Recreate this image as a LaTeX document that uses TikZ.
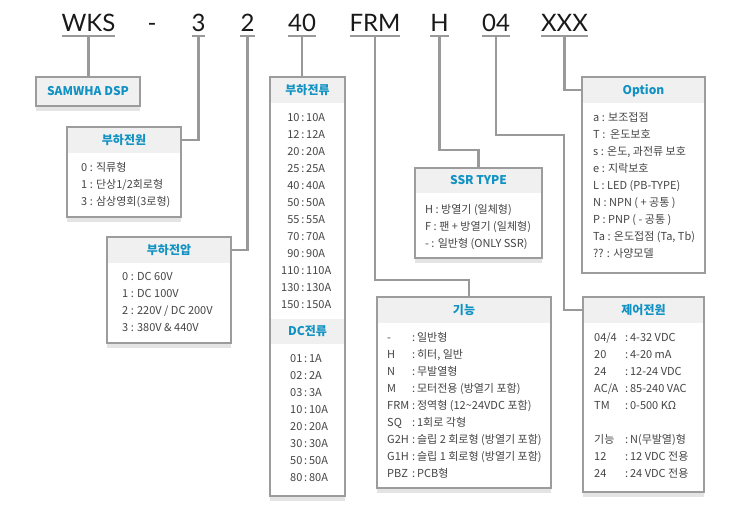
\documentclass[tikz,border=0pt]{standalone}
\usepackage{fontspec}
\newfontfamily\kr{Noto Sans CJK KR}
\newfontfamily\ttlfont{Lato}
\usetikzlibrary{calc}
\definecolor{bord}{HTML}{9C9C9C}
\definecolor{conncol}{HTML}{999999}
\definecolor{hdrfill}{HTML}{F0F0F0}
\definecolor{shad}{HTML}{E4E4E4}
\definecolor{hblue}{HTML}{1192C2}
\definecolor{txt}{HTML}{444444}
\tikzset{
 ttl/.style={font=\ttlfont\fontsize{24}{24}\selectfont, text=black!90, anchor=south, inner xsep=0pt, inner ysep=4pt, text depth=0pt, outer sep=0pt},
 uline/.style={draw=conncol, line width=1.2pt},
 conn/.style={draw=conncol, line width=2.6pt},
 box/.style={draw=bord, line width=1.6pt, anchor=north west, inner sep=0pt, outer sep=0pt},
 hdr/.style={font=\kr\bfseries\fontsize{12}{12}\selectfont, text=hblue, inner sep=0pt, anchor=base},
 body/.style={font=\kr\fontsize{11}{17}\selectfont, text=txt, anchor=base west, inner sep=0pt},
}
% name, x, y, w, h, header height, title, shadow height
\newcommand{\ibox}[8]{%
  \fill[shad] (#2,#3+#5) rectangle (#2+#4,#3+#5+#8);
  \fill[hdrfill] (#2,#3) rectangle (#2+#4,#3+#6);
  \node[box, minimum width=#4pt, minimum height=#5pt] (#1) at (#2,#3) {};
  \node[hdr] (#1-h) at (#2+#4/2,#3+#6/2+4.5) {#7};
}
\begin{document}
\begin{tikzpicture}[x=1pt,y=-1pt]
\useasboundingbox (0,0) rectangle (732,513);

% title codes
\node[ttl, minimum width=49pt] (tWKS) at (88.5,36) {WKS};
\node[ttl] (tDash) at (152,36) {-};
\node[ttl, minimum width=13pt] (t3) at (198.5,36) {3};
\node[ttl, minimum width=15pt] (t2) at (247.5,36) {2};
\node[ttl, minimum width=28pt] (t40) at (302,36) {40};
\node[ttl, minimum width=46pt] (tFRM) at (375,36) {FRM};
\node[ttl, minimum width=17pt] (tH) at (439.5,36) {H};
\node[ttl, minimum width=27pt] (t04) at (496,36) {04};
\node[ttl, minimum width=45pt] (tXXX) at (564.5,36) {XXX};
\foreach \t in {tWKS,t3,t2,t40,tFRM,tH,t04,tXXX}
  \draw[uline] (\t.south west) -- (\t.south east);

% boxes
\ibox{samwha}{36}{77}{104}{29}{29}{SAMWHA DSP}{5}
\ibox{pw}{67}{127}{114}{90}{26}{부하전원}{5}
\ibox{volt}{107}{237}{124}{106}{26}{부하전압}{5}
\ibox{cur}{270}{77}{75}{419}{26}{부하전류}{5}
\fill[hdrfill] (271,319) rectangle (344,344);
\node[hdr] (dc-h) at (307.5,336) {DC전류};
\ibox{ssr}{415}{168}{127}{90}{25}{SSR TYPE}{5}
\ibox{func}{377}{297}{174}{191}{26}{기능}{5}
\ibox{opt}{582}{77}{123}{196}{26}{Option}{0}
\ibox{ctl}{583}{297}{121}{195}{26}{제어전원}{5}

% box contents
\node[body] (pw-b) at (81,172) {\begin{tabular}[t]{@{}l@{}}
0 : 직류형\\ 1 : 단상1/2회로형\\ 3 : 삼상영회(3로형)\end{tabular}};
\node[body] (volt-b) at (122,281) {\begin{tabular}[t]{@{}l@{}}
0 : DC 60V\\ 1 : DC 100V\\ 2 : 220V / DC 200V\\ 3 : 380V \& 440V\end{tabular}};
\node[body] (cur-b) at (281,122) {\begin{tabular}[t]{@{}r@{\,:\,}l@{}}
10&10A\\ 12&12A\\ 20&20A\\ 25&25A\\ 40&40A\\ 50&50A\\ 55&55A\\ 70&70A\\ 90&90A\\ 110&110A\\ 130&130A\\ 150&150A\end{tabular}};
\node[body] (dc-b) at (290,363) {\begin{tabular}[t]{@{}r@{\,:\,}l@{}}
01&1A\\ 02&2A\\ 03&3A\\ 10&10A\\ 20&20A\\ 30&30A\\ 50&50A\\ 80&80A\end{tabular}};
\node[body] (ssr-b) at (425,214) {\begin{tabular}[t]{@{}l@{}}
H : 방열기 (일체형)\\ F : 팬 + 방열기 (일체형)\\ - : 일반형 (ONLY SSR)\end{tabular}};
\node[body] (func-b) at (387,342) {\begin{tabular}[t]{@{}p{25pt}@{:\,}l@{}}
-&일반형\\ H&히터, 일반\\ N&무발열형\\ M&모터전용 (방열기 포함)\\ FRM&정역형 (12\textasciitilde24VDC 포함)\\ SQ&1회로 각형\\ G2H&슬립 2 회로형 (방열기 포함)\\ G1H&슬립 1 회로형 (방열기 포함)\\ PBZ&PCB형\end{tabular}};
\node[body] (opt-b) at (593,122) {\begin{tabular}[t]{@{}l@{}}
a : 보조접점\\ T : \ 온도보호\\ s : 온도, 과전류 보호\\ e : 지락보호\\ L : LED (PB-TYPE)\\ N : NPN ( + 공통 )\\ P : PNP ( - 공통 )\\ Ta : 온도접점 (Ta, Tb)\\ ?? : 사양모델\end{tabular}};
\node[body] (ctl-b) at (594,342) {\begin{tabular}[t]{@{}p{31pt}@{:\,}l@{}}
04/4&4-32 VDC\\ 20&4-20 mA\\ 24&12-24 VDC\\ AC/A&85-240 VAC\\ TM&0-500 KΩ\\[17pt] 기능&N(무발열)형\\ 12&12 VDC 전용\\ 24&24 VDC 전용\end{tabular}};

% connectors
\draw[conn] (tWKS.south) -- (tWKS.south |- samwha.north);
\draw[conn] (t3.south) |- ([yshift=-13pt]pw.north east);
\draw[conn] (t2.south) |- ([yshift=-13pt]volt.north east);
\draw[conn] (t40.south) -- (t40.south |- cur.north);
\draw[conn] (tFRM.south) -- ++(0,244) -| ([xshift=5pt]func.north);
\draw[conn] (tH.south) -- ++(0,114) -| (ssr.north);
\draw[conn] (t04.south) -- ++(0,99) -- ++(68,0) |- ([yshift=-13pt]ctl.north west);
\draw[conn] (tXXX.south) |- ([yshift=-13pt]opt.north west);
\end{tikzpicture}
\end{document}
